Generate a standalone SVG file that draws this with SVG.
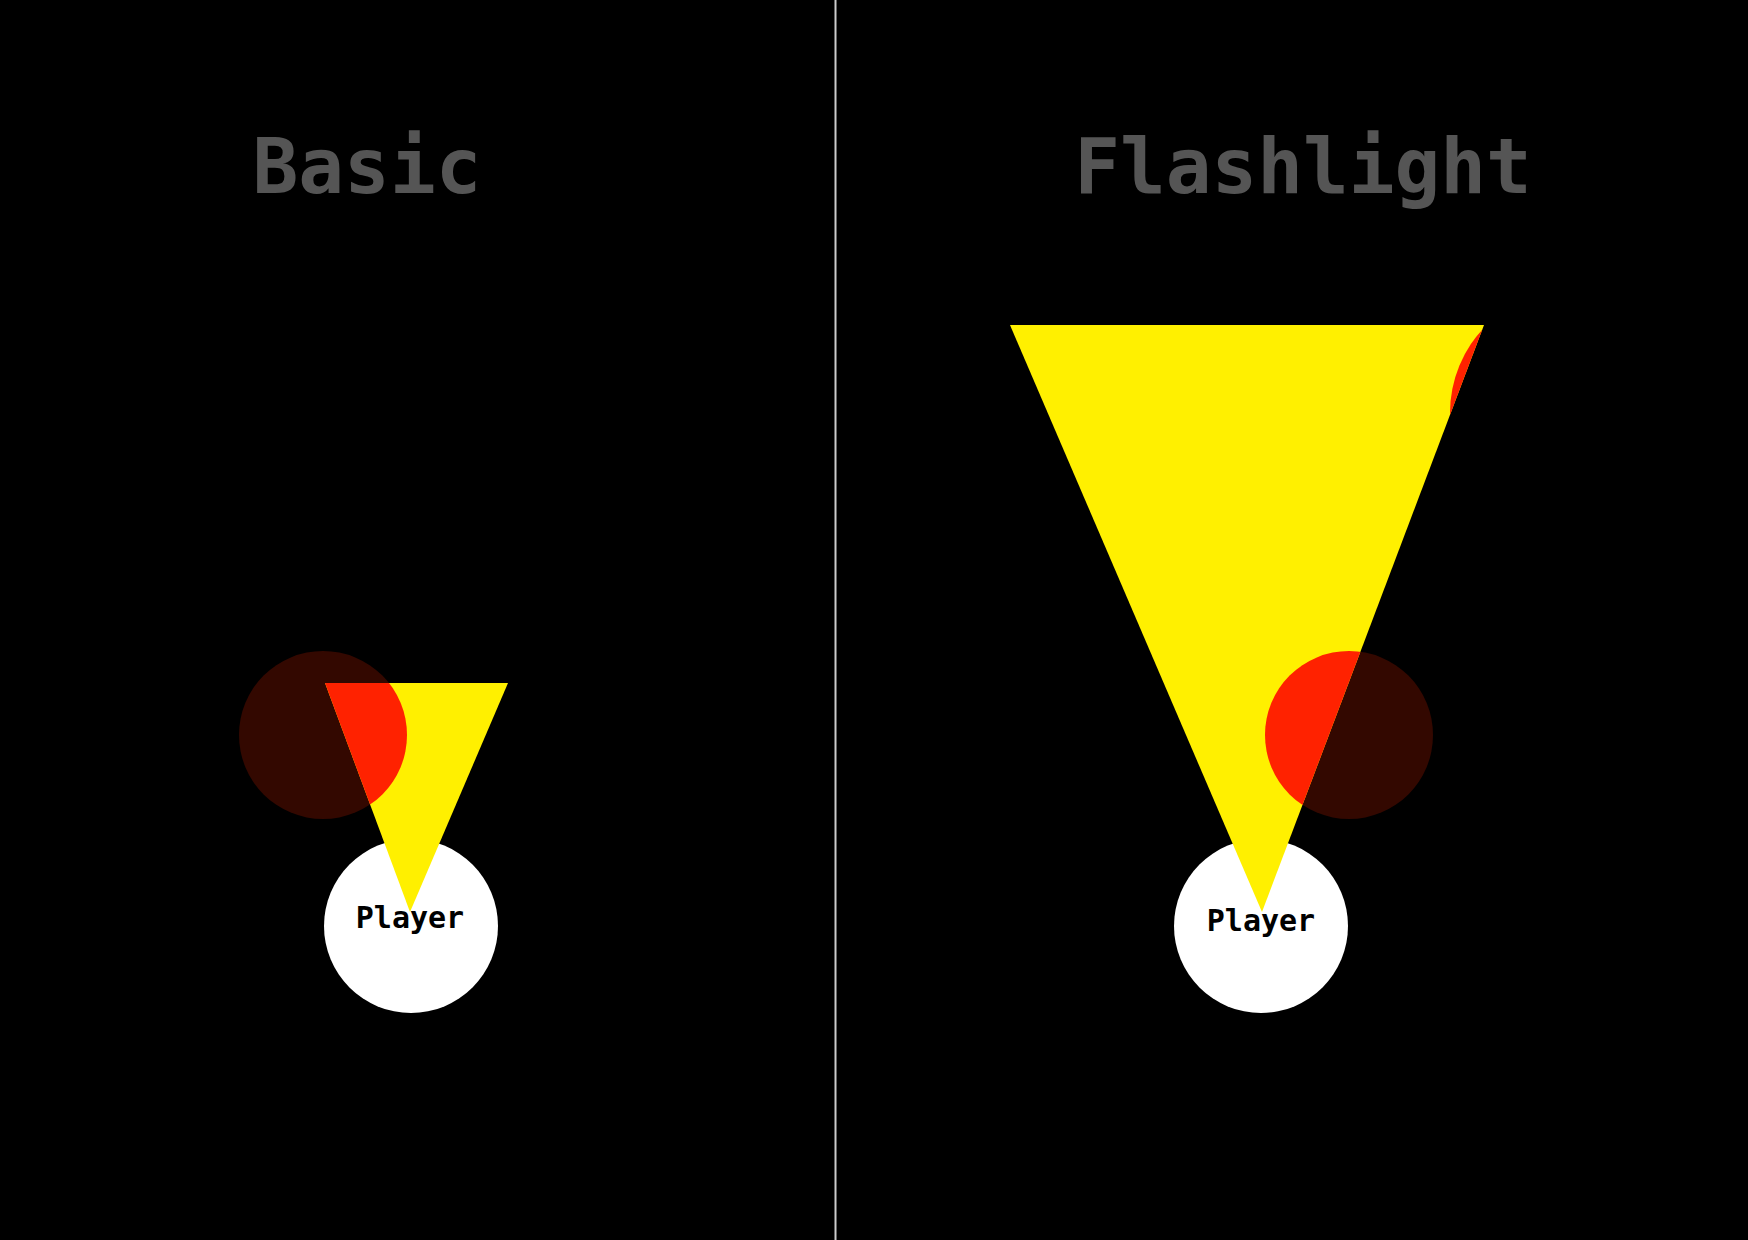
<svg xmlns="http://www.w3.org/2000/svg" width="1748" height="1240" viewBox="0 0 1748 1240">
<defs>
<style>
.title{font-family:"DejaVu Sans Mono","Liberation Mono",monospace;font-weight:bold;font-size:76px;fill:#555555;text-anchor:middle}
.label{font-family:"DejaVu Sans Mono","Liberation Mono",monospace;font-weight:bold;font-size:30px;fill:#000000;text-anchor:middle}
.dark{fill:#330800}
.lit{fill:#ff2200}
.beam{fill:#fff000}
.player{fill:#ffffff}
</style>
<clipPath id="clipL"><polygon points="325,683 508,683 410,912"/></clipPath>
<clipPath id="clipR"><polygon points="1010,325 1484,325 1262,912"/></clipPath>
</defs>
<rect x="0" y="0" width="1748" height="1240" fill="#000000"/>
<line x1="835.5" y1="0" x2="835.5" y2="1240" stroke="#cccccc" stroke-width="2"/>
<text class="title" x="367" y="193">Basic</text>
<text class="title" x="1303" y="193">Flashlight</text>
<g id="basic">
  <circle id="enemyL" class="dark" cx="323" cy="735" r="84"/>
  <g id="playerL">
    <circle class="player" cx="411" cy="926" r="87"/>
  </g>
  <polygon id="beamL" class="beam" points="325,683 508,683 410,912"/>
  <circle class="lit" cx="323" cy="735" r="84" clip-path="url(#clipL)"/>
  <text class="label" x="410" y="928">Player</text>
</g>
<g id="flashlight">
  <circle id="enemyR" class="dark" cx="1349" cy="735" r="84"/>
  <g id="playerR">
    <circle class="player" cx="1261" cy="926" r="87"/>
  </g>
  <polygon id="beamR" class="beam" points="1010,325 1484,325 1262,912"/>
  <circle class="lit" cx="1349" cy="735" r="84" clip-path="url(#clipR)"/>
  <circle class="lit" cx="1574" cy="413" r="124" clip-path="url(#clipR)"/>
  <text class="label" x="1261" y="931">Player</text>
</g>
<g id="connectors"/>
</svg>
